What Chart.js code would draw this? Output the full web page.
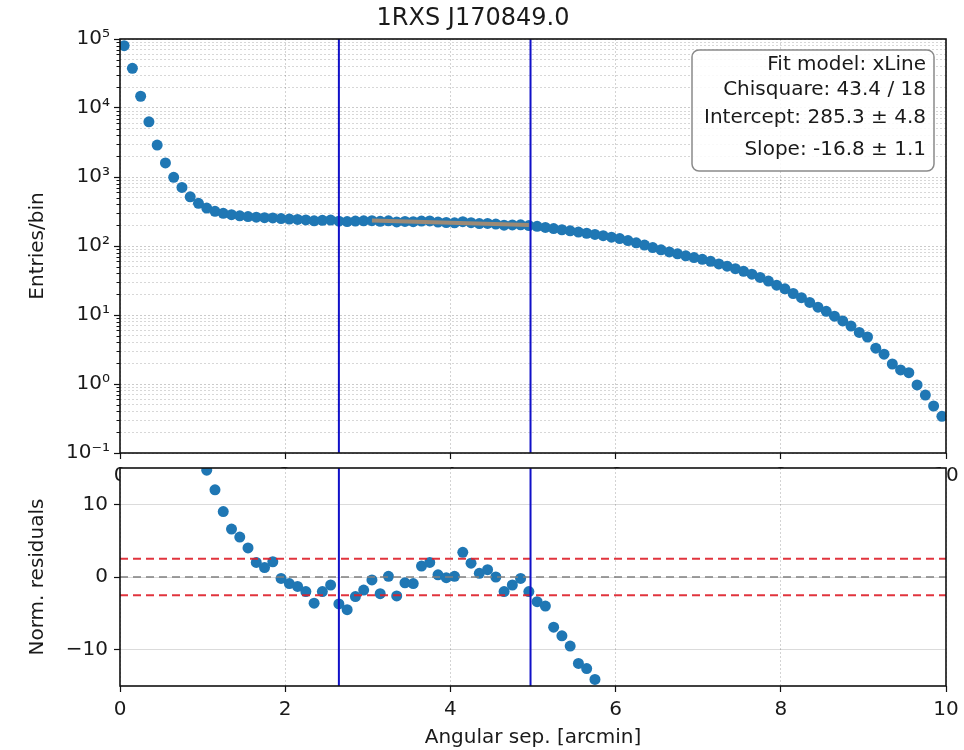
<!DOCTYPE html>
<html><head><meta charset="utf-8">
<script src="https://cdn.jsdelivr.net/npm/chart.js@4/dist/chart.umd.min.js"></script>
<style>
html,body{margin:0;padding:0;background:#fff;}
#wrap{position:relative;width:964px;height:750px;overflow:hidden;}
#top{position:absolute;left:0;top:0;}
#bot{position:absolute;left:0;top:460px;}
</style></head><body>
<div id="wrap"><canvas id="top" width="964" height="490"></canvas><canvas id="bot" width="964" height="290"></canvas></div>
<script>
const chartTitle = '1RXS J170849.0';
const xTitle = 'Angular sep. [arcmin]';
const yTopTitle = 'Entries/bin';
const yBotTitle = 'Norm. residuals';

const binCenters = [0.05,0.15,0.25,0.35,0.45,0.55,0.65,0.75,0.85,0.95,
  1.05,1.15,1.25,1.35,1.45,1.55,1.65,1.75,1.85,1.95,
  2.05,2.15,2.25,2.35,2.45,2.55,2.65,2.75,2.85,2.95,
  3.05,3.15,3.25,3.35,3.45,3.55,3.65,3.75,3.85,3.95,
  4.05,4.15,4.25,4.35,4.45,4.55,4.65,4.75,4.85,4.95,
  5.05,5.15,5.25,5.35,5.45,5.55,5.65,5.75,5.85,5.95,
  6.05,6.15,6.25,6.35,6.45,6.55,6.65,6.75,6.85,6.95,
  7.05,7.15,7.25,7.35,7.45,7.55,7.65,7.75,7.85,7.95,
  8.05,8.15,8.25,8.35,8.45,8.55,8.65,8.75,8.85,8.95,
  9.05,9.15,9.25,9.35,9.45,9.55,9.65,9.75,9.85,9.95];
const entries = [80000,37600,14800,6300,2900,1600,990,705,517,416,
  355,318,298,284,274,267,262,257,255,250,
  246,243,239,232,236,238,229,226,230,232,
  233,228,232,223,227,225,230,231,222,219,
  217,225,218,211,212,208,200,202,203,198,
  193,186,179,172,166,159,153,147,141,134,
  128,120,111,103,95,88,82,77,72,68,
  64,60,55,51,47,43,39,35,31,27,
  24,20.5,17.8,15.2,13,11.3,9.6,8.2,6.9,5.6,
  4.8,3.3,2.7,1.95,1.6,1.46,0.97,0.69,0.48,0.34];

const residX = [1.05,1.15,1.25,1.35,1.45,1.55,1.65,1.75,1.85,1.95,
  2.05,2.15,2.25,2.35,2.45,2.55,2.65,2.75,2.85,2.95,
  3.05,3.15,3.25,3.35,3.45,3.55,3.65,3.75,3.85,3.95,
  4.05,4.15,4.25,4.35,4.45,4.55,4.65,4.75,4.85,4.95,
  5.05,5.15,5.25,5.35,5.45,5.55,5.65,5.75];
const residY = [14.7,12.0,9.0,6.6,5.5,4.0,2.0,1.3,2.1,-0.2,
  -0.9,-1.3,-2.0,-3.6,-2.0,-1.1,-3.7,-4.5,-2.7,-1.8,
  -0.4,-2.3,0.1,-2.6,-0.8,-0.9,1.5,2.0,0.3,-0.1,
  0.1,3.4,1.9,0.5,1.0,0.0,-2.0,-1.1,-0.2,-2.0,
  -3.4,-4.0,-6.9,-8.1,-9.5,-11.9,-12.6,-14.1];

const fitX = [3.05, 4.95];
const fitY = [234.1, 202.1];
const boundaries = [2.65, 4.97];
const sigmaBand = [2.5, -2.5];
const zeroLine = [0];

const xRange = [0, 10];
const xTicks = [0, 2, 4, 6, 8, 10];
const yTopRange = [0.1, 100000];
const yDecades = [0.1, 1, 10, 100, 1000, 10000, 100000];
const yDecadeLabels = ['10\u207B\u00B9', '10\u2070', '10\u00B9', '10\u00B2', '10\u00B3', '10\u2074', '10\u2075'];
const yBotRange = [-15, 15];
const resTicks = [-10, 0, 10];
const resTickLabels = ['\u221210', '0', '10'];
const fitInfo = ['Fit model: xLine', 'Chisquare: 43.4 / 18', 'Intercept: 285.3 \u00B1 4.8', 'Slope: -16.8 \u00B1 1.1'];

// minor tick positions on the log axis
const yMinor = [];
for (let d = 0; d < yDecades.length - 1; d++) {
  for (let k = 2; k <= 9; k++) yMinor.push(k * yDecades[d]);
}
const yAll = yDecades.concat(yMinor);

const FONT = 'DejaVu Sans';
const TXT = '#1a1a1a';
Chart.defaults.font.family = FONT;
Chart.defaults.color = TXT;
const PT = '#1f77b4';
const VBLUE = '#1010c8';

const frame = {
  id: 'frame',
  afterDraw(chart) {
    const {ctx, chartArea: a} = chart;
    ctx.save();
    ctx.strokeStyle = '#111';
    ctx.lineWidth = 1.6;
    ctx.strokeRect(a.left, a.top, a.right - a.left, a.bottom - a.top);
    ctx.restore();
  }
};
const minorTicks = {
  id: 'minorTicks',
  afterDraw(chart) {
    const s = chart.scales.y, ctx = chart.ctx;
    ctx.save();
    ctx.strokeStyle = '#111';
    ctx.lineWidth = 1;
    for (const v of yMinor) {
      const p = Math.round(s.getPixelForValue(v)) + 0.5;
      ctx.beginPath(); ctx.moveTo(s.right - 3.5, p); ctx.lineTo(s.right, p); ctx.stroke();
    }
    ctx.restore();
  }
};
const infoBox = {
  id: 'infoBox',
  afterDraw(chart) {
    const ctx = chart.ctx, a = chart.chartArea;
    const x0 = a.right - 254, y0 = a.top + 11, w = 242, h = 121, r = 7;
    ctx.save();
    ctx.beginPath();
    ctx.moveTo(x0 + r, y0);
    ctx.arcTo(x0 + w, y0, x0 + w, y0 + h, r);
    ctx.arcTo(x0 + w, y0 + h, x0, y0 + h, r);
    ctx.arcTo(x0, y0 + h, x0, y0, r);
    ctx.arcTo(x0, y0, x0 + w, y0, r);
    ctx.closePath();
    ctx.fillStyle = 'rgba(255,255,255,0.85)';
    ctx.fill();
    ctx.strokeStyle = '#8a8a8a';
    ctx.lineWidth = 1.5;
    ctx.stroke();
    ctx.fillStyle = TXT;
    ctx.font = '20px "' + FONT + '"';
    ctx.textAlign = 'right';
    ctx.textBaseline = 'middle';
    const offs = [26, 51, 79, 111];
    fitInfo.forEach((t, i) => ctx.fillText(t, a.right - 20, a.top + offs[i]));
    ctx.restore();
  }
};
const whiteArea = {
  id: 'whiteArea',
  beforeDraw(chart) {
    const {ctx, chartArea: a} = chart;
    ctx.save();
    ctx.fillStyle = '#fff';
    ctx.fillRect(a.left, a.top, a.right - a.left, a.bottom - a.top);
    ctx.restore();
  }
};

function vline(x, range) {
  return {type: 'line', data: [{x: x, y: range[0]}, {x: x, y: range[1]}],
    borderColor: VBLUE, borderWidth: 2, pointRadius: 0, order: 0};
}
function hline(y, color, width) {
  return {type: 'line', data: [{x: xRange[0], y: y}, {x: xRange[1], y: y}],
    borderColor: color, borderWidth: width, borderDash: [8, 5], pointRadius: 0, order: 1};
}
function fixV(s, w) { s.width = w; s.paddingTop = 0; s.paddingBottom = 0; }
function fixH(s, h) { s.height = h; s.paddingLeft = 0; s.paddingRight = 0; }

// ---------- top panel ----------
new Chart(document.getElementById('top'), {
  type: 'scatter',
  data: {
    datasets: [
      ...boundaries.map(b => vline(b, yTopRange)),
      {type: 'line', data: fitX.map((x, i) => ({x: x, y: fitY[i]})),
        borderColor: '#9c8a76', borderWidth: 4, pointRadius: 0, order: 0},
      {data: binCenters.map((x, i) => ({x: x, y: entries[i]})),
        backgroundColor: PT, borderWidth: 0, pointRadius: 5.5, pointHoverRadius: 5.5, order: 2}
    ]
  },
  options: {
    responsive: false, animation: false, events: [],
    layout: {padding: {left: 0, right: 18, top: 0, bottom: 0}},
    plugins: {
      legend: {display: false}, tooltip: {enabled: false},
      title: {display: true, text: chartTitle, color: TXT,
        font: {size: 24, weight: 'normal', family: FONT}, padding: {top: 4, bottom: 6.2}}
    },
    scales: {
      x: {type: 'linear', min: xRange[0], max: xRange[1],
        afterBuildTicks: s => { s.ticks = xTicks.map(v => ({value: v})); },
        afterFit: s => fixH(s, 37),
        ticks: {font: {size: 20}, padding: 5, maxRotation: 0, autoSkip: false, color: TXT},
        grid: {color: 'rgba(0,0,0,0.22)', lineWidth: 0.8, tickColor: '#111', tickLength: 6, tickWidth: 1.2},
        border: {display: false, dash: [2, 2]}
      },
      y: {type: 'logarithmic', min: yTopRange[0], max: yTopRange[1],
        afterBuildTicks: s => { s.ticks = yAll.map(v => ({value: v, major: yDecades.includes(v)})); },
        afterFit: s => fixV(s, 120),
        ticks: {font: {size: 20}, padding: 4, autoSkip: false, color: TXT,
          callback: v => { const i = yDecades.indexOf(v); return i >= 0 ? yDecadeLabels[i] : ''; }},
        grid: {color: c => (c.tick && c.tick.major) ? 'rgba(0,0,0,0.26)' : 'rgba(0,0,0,0.2)',
          lineWidth: 0.8, tickLength: 6, tickWidth: 1.2,
          tickColor: c => (c.tick && c.tick.major) ? '#111' : 'rgba(0,0,0,0)'},
        border: {display: false, dash: [2, 2]},
        title: {display: true, text: yTopTitle, color: TXT, font: {size: 20}, padding: {top: 26, bottom: 0}}
      }
    }
  },
  plugins: [frame, minorTicks, infoBox]
});

// ---------- residual panel ----------
new Chart(document.getElementById('bot'), {
  type: 'scatter',
  data: {
    datasets: [
      ...boundaries.map(b => vline(b, yBotRange)),
      ...sigmaBand.map(s => hline(s, 'rgba(222,30,40,0.9)', 2)),
      ...zeroLine.map(z => hline(z, '#808080', 1.6)),
      {data: residX.map((x, i) => ({x: x, y: residY[i]})),
        backgroundColor: PT, borderWidth: 0, pointRadius: 5.5, pointHoverRadius: 5.5, order: 2}
    ]
  },
  options: {
    responsive: false, animation: false, events: [],
    layout: {padding: {left: 0, right: 18, top: 8, bottom: 0}},
    plugins: {legend: {display: false}, tooltip: {enabled: false}},
    scales: {
      x: {type: 'linear', min: xRange[0], max: xRange[1],
        afterBuildTicks: s => { s.ticks = xTicks.map(v => ({value: v})); },
        afterFit: s => fixH(s, 64),
        ticks: {font: {size: 20}, padding: 6, maxRotation: 0, autoSkip: false, color: TXT},
        grid: {color: 'rgba(0,0,0,0.22)', lineWidth: 0.8, tickColor: '#111', tickLength: 6, tickWidth: 1.2},
        border: {display: false, dash: [2, 2]},
        title: {display: true, text: xTitle, color: TXT, font: {size: 20}, padding: {top: 0, bottom: 0}}
      },
      y: {type: 'linear', min: yBotRange[0], max: yBotRange[1],
        afterBuildTicks: s => { s.ticks = resTicks.map(v => ({value: v})); },
        afterFit: s => fixV(s, 120),
        ticks: {font: {size: 20}, padding: 6, autoSkip: false, color: TXT,
          callback: v => resTickLabels[resTicks.indexOf(v)]},
        grid: {color: 'rgba(0,0,0,0.14)', lineWidth: 1, tickColor: '#111', tickLength: 6, tickWidth: 1.2},
        border: {display: false},
        title: {display: true, text: yBotTitle, color: TXT, font: {size: 20}, padding: {top: 26, bottom: 0}}
      }
    }
  },
  plugins: [whiteArea, frame]
});
</script>
</body></html>
